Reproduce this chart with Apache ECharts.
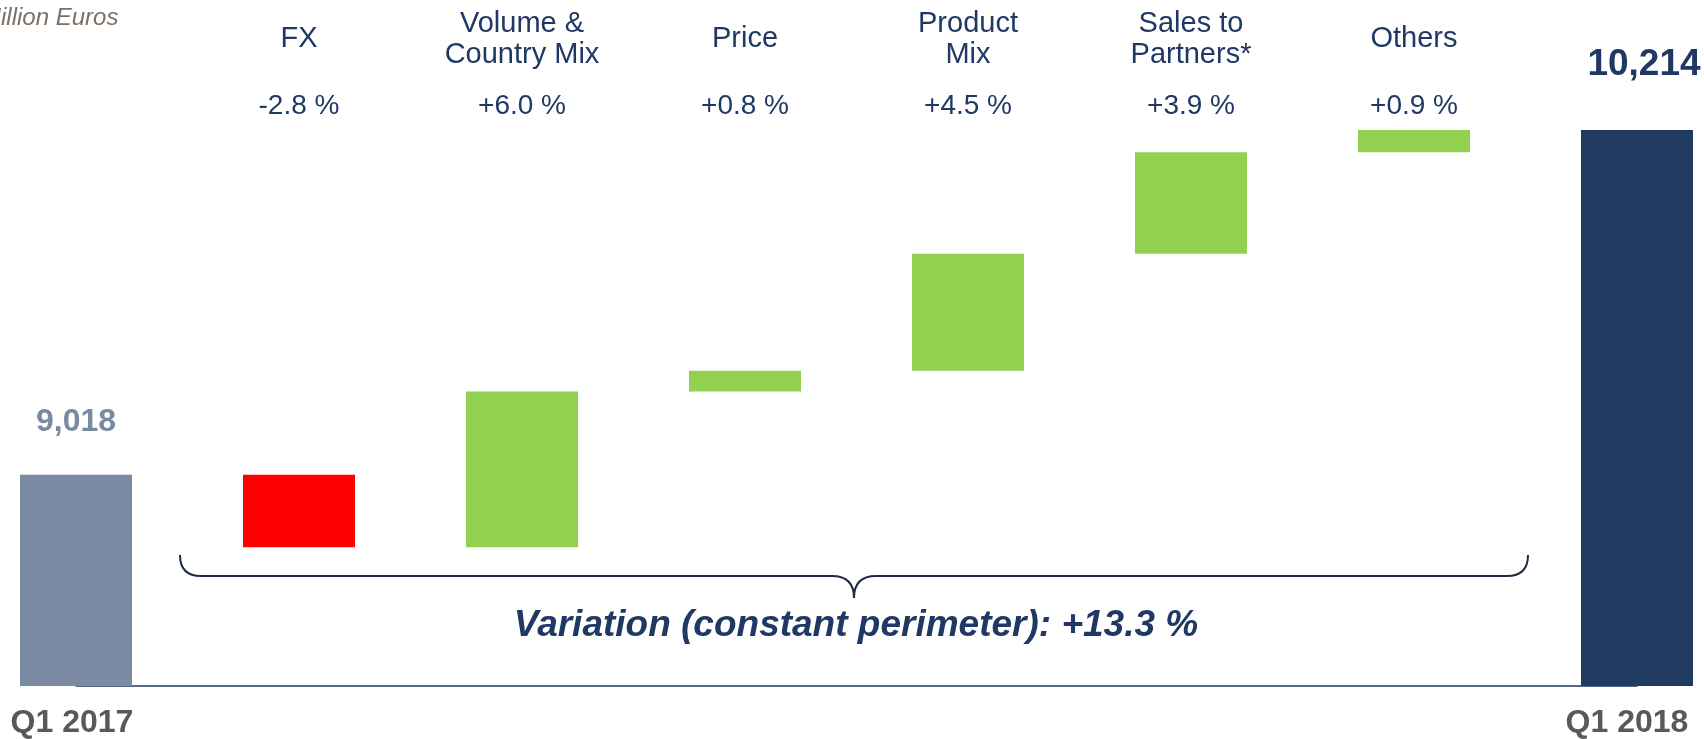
<!DOCTYPE html>
<html lang="en">
<head>
<meta charset="UTF-8">
<title>Sales bridge Q1 2017 - Q1 2018</title>
<style>
  html, body { margin: 0; padding: 0; background: #fff; }
  #chart { width: 1704px; height: 739px; }
</style>
</head>
<body>
<div id="chart"></div>
<script src="https://cdn.jsdelivr.net/npm/echarts@6/dist/echarts.min.js"></script>
<script>
// values, million euros
var periods = ['Q1 2017', 'Q1 2018'];
var totals = [9018, 10214];
var steps = ['FX', 'Volume &\nCountry Mix', 'Price', 'Product\nMix', 'Sales to\nPartners*', 'Others'];
var stepPct = ['-2.8 %', '+6.0 %', '+0.8 %', '+4.5 %', '+3.9 %', '+0.9 %'];
var stepDelta = [-252, 541, 72, 406, 352, 77];
var variationText = 'Variation (constant perimeter): +13.3 %';

var FONT = '"Liberation Sans", Arial, sans-serif';
var NAVY = '#203864';
var AXIS_MIN = 8285;

var cats = [periods[0]].concat(steps, [periods[1]]);
var pctRow = [''].concat(stepPct, ['']);

function fmt(v) { return v.toLocaleString('en-US'); }

// waterfall: invisible base + visible step, totals in their own series
var base = ['-'];
var step = ['-'];
var run = totals[0];
stepDelta.forEach(function (d) {
  base.push(d < 0 ? run + d : run);
  step.push({ value: Math.abs(d), itemStyle: { color: d < 0 ? '#FF0000' : '#92D050' } });
  run += d;
});
base.push('-');
step.push('-');

var totalData = [{
  value: totals[0],
  itemStyle: { color: '#7A8AA2' },
  label: { show: true, position: 'top', distance: 37, formatter: fmt(totals[0]),
           color: '#7A8AA2', fontSize: 32, fontWeight: 'bold', fontFamily: FONT }
}];
for (var i = 0; i < steps.length; i++) totalData.push('-');
totalData.push({
  value: totals[1],
  itemStyle: { color: '#213A60' },
  label: { show: true, position: 'top', distance: 47, offset: [7, 0], formatter: fmt(totals[1]),
           color: NAVY, fontSize: 37, fontWeight: 'bold', fontFamily: FONT }
});

// curly brace under the steps (decoration)
var braceStyle = { stroke: '#1F2A44', lineWidth: 2, fill: null };
var brace = [
  { type: 'bezierCurve', shape: { x1: 180, y1: 555, cpx1: 180, cpy1: 576, x2: 201, y2: 576 }, style: braceStyle },
  { type: 'line', shape: { x1: 201, y1: 576, x2: 832, y2: 576 }, style: braceStyle },
  { type: 'bezierCurve', shape: { x1: 832, y1: 576, cpx1: 854, cpy1: 576, x2: 854, y2: 598 }, style: braceStyle },
  { type: 'bezierCurve', shape: { x1: 876, y1: 576, cpx1: 854, cpy1: 576, x2: 854, y2: 598 }, style: braceStyle },
  { type: 'line', shape: { x1: 876, y1: 576, x2: 1507, y2: 576 }, style: braceStyle },
  { type: 'bezierCurve', shape: { x1: 1507, y1: 576, cpx1: 1528, cpy1: 576, x2: 1528, y2: 555 }, style: braceStyle }
];

var chart = echarts.init(document.getElementById('chart'));

var option = {
  animation: false,
  backgroundColor: '#fff',
  grid: { left: 76, right: 67, top: 130, bottom: 51 },
  xAxis: [{
    type: 'category',
    boundaryGap: false,
    data: cats,
    axisLine: { lineStyle: { color: '#1F3864', width: 1.5 } },
    axisTick: { show: false },
    axisLabel: {
      interval: 0, margin: 21, verticalAlign: 'top',
      formatter: function (v, i) {
        if (i === 0) return '{a|' + v + '}';
        if (i === cats.length - 1) return '{b|' + v + '}';
        return '';
      },
      rich: {
        a: { fontSize: 32, fontWeight: 'bold', color: '#595959', fontFamily: FONT, padding: [0, 8, 0, 0] },
        b: { fontSize: 32, fontWeight: 'bold', color: '#595959', fontFamily: FONT, padding: [0, 20, 0, 0] }
      }
    }
  }, {
    type: 'category',
    boundaryGap: false,
    position: 'top',
    data: cats,
    axisLine: { show: false },
    axisTick: { show: false },
    axisLabel: {
      interval: 0, margin: 91, verticalAlign: 'middle', lineHeight: 31,
      fontSize: 29, color: NAVY, fontFamily: FONT,
      formatter: function (v, i) { return (i === 0 || i === cats.length - 1) ? '' : v; }
    }
  }, {
    type: 'category',
    boundaryGap: false,
    position: 'top',
    data: pctRow,
    axisLine: { show: false },
    axisTick: { show: false },
    axisLabel: {
      interval: 0, margin: 24, verticalAlign: 'middle',
      fontSize: 28, color: NAVY, fontFamily: FONT
    }
  }],
  yAxis: {
    type: 'value',
    min: AXIS_MIN,
    max: 10214,
    startValue: AXIS_MIN,
    show: false
  },
  series: [{
    type: 'bar',
    stack: 'bridge',
    data: base,
    barWidth: 112,
    barGap: '-100%',
    clip: false,
    itemStyle: { color: 'transparent' },
    silent: true
  }, {
    type: 'bar',
    stack: 'bridge',
    data: step,
    barWidth: 112,
    barGap: '-100%',
    clip: false
  }, {
    type: 'bar',
    data: totalData,
    barWidth: 112,
    barGap: '-100%',
    clip: false
  }],
  graphic: [{
    type: 'text',
    x: -19, y: 6,
    style: { text: 'Million Euros', font: 'italic 24px ' + FONT, fill: '#7D7167' }
  }, {
    type: 'text',
    x: 856, y: 626,
    style: {
      text: variationText, font: 'italic bold 37px ' + FONT, fill: NAVY,
      textAlign: 'center', textVerticalAlign: 'middle'
    }
  }].concat(brace)
};

chart.setOption(option);
</script>
</body>
</html>
